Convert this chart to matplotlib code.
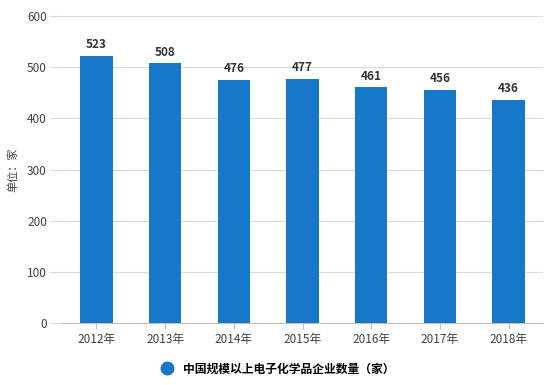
import matplotlib.pyplot as plt
from matplotlib.lines import Line2D

plt.rcParams['font.family'] = ['Noto Sans CJK SC', 'DejaVu Sans']

years = ['2012年', '2013年', '2014年', '2015年', '2016年', '2017年', '2018年']
counts = [523, 508, 476, 477, 461, 456, 436]
series_name = '中国规模以上电子化学品企业数量（家）'

bar_color = '#1777c8'
text_color = '#404040'

fig = plt.figure(figsize=(5.5, 3.85), dpi=100)
ax = fig.add_axes([0.113, 0.161, 0.874, 0.797])

x = range(len(years))
bars = ax.bar(x, counts, width=0.47, color=bar_color, zorder=3)
for b, v in zip(bars, counts):
    ax.text(b.get_x() + b.get_width() / 2, v + 9, str(v), ha='center', va='bottom',
            fontsize=8.5, fontweight='bold', color='#333333')

ax.set_xlim(-0.5, len(years) - 0.5)
ax.set_ylim(0, 600)
ax.set_yticks(range(0, 601, 100))
ax.set_xticks(list(x))
ax.set_xticklabels(years)
ax.yaxis.grid(True, color='#d9d9d9', linewidth=0.8, zorder=0)
ax.tick_params(axis='y', length=9, color='#d9d9d9', labelsize=8.5, labelcolor=text_color, pad=2)
ax.tick_params(axis='x', length=4, color='#bfbfbf', labelsize=8.5, labelcolor=text_color, pad=3)
for s in ['top', 'right', 'left']:
    ax.spines[s].set_visible(False)
ax.spines['bottom'].set_color('#bfbfbf')

ax.set_ylabel('单位：家', fontsize=8, color=text_color, labelpad=6)

handle = Line2D([], [], marker='o', linestyle='none', markersize=9, color=bar_color)
fig.legend([handle], [series_name], loc='center', bbox_to_anchor=(0.5, 0.042),
           frameon=False, handletextpad=0.3,
           prop={'weight': 'bold', 'size': 8.5})

fig.savefig('out.png', dpi=100)
